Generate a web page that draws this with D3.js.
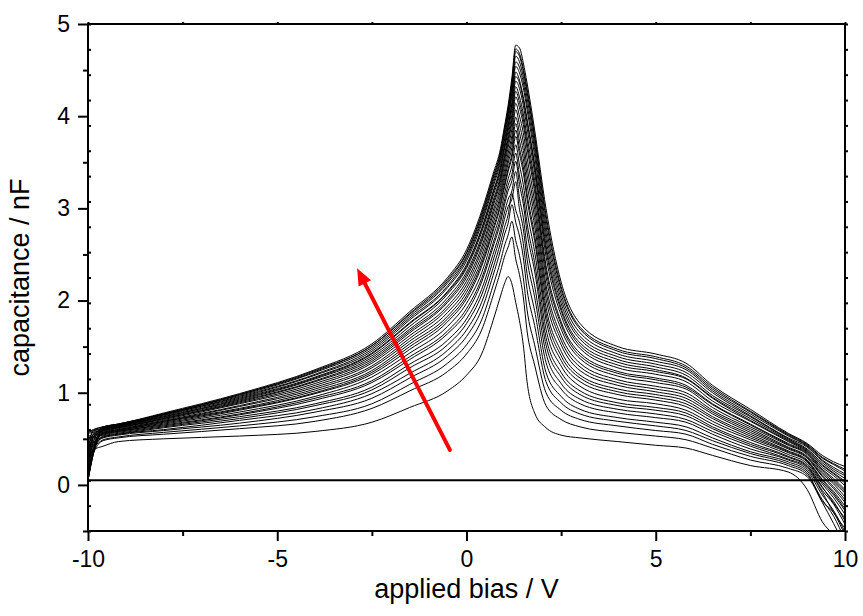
<!DOCTYPE html>
<meta charset="utf-8">
<head>
  <title>C-V curves</title>
  <style>
    body { margin: 0; background: #fff; }
    text { font-family: "Liberation Sans", Arial, sans-serif; }
  </style>
</head>
<body>
<script src="https://d3js.org/d3.v7.min.js"></script>
<div id="chart"></div>
<script>
// bias grid (V), shared by all curves
var biasGrid = [-10, -9.85, -9.6, -9.2, -8, -6, -4, -2.5, -1.5, -0.5, 0, 0.4, 0.7, 0.9, 1.0, 1.1, 1.2, 1.3, 1.4, 1.5, 1.6, 1.8, 2.1, 2.5, 3, 4, 5, 5.8, 6.5, 7.5, 8.5, 9, 9.4, 9.7, 10];

// capacitance (nF), one row per measured curve, lowest first
var c00 = [0.30,.38,.42,.47,.50,.53,.58,.68,.84,1.02,1.19,1.42,1.78,2.05,2.18,2.26,2.18,1.98,1.78,1.52,1.12,.78,.62,.54,.51,.47,.43,.40,.32,.21,.14,-.05,-.40,-.55,-.75];
var c01 = [.05,.35,.48,.51,.55,.61,.69,.83,1.02,1.23,1.42,1.68,2.05,2.32,2.47,2.58,2.69,2.45,2.28,2.04,1.67,1.30,.86,.71,.63,.57,.53,.49,.40,.27,.18,.09,-.19,-.42,-.66];
var c02 = [.45,.43,.49,.52,.57,.64,.74,.88,1.09,1.32,1.52,1.79,2.16,2.43,2.59,2.71,2.86,2.65,2.49,2.25,1.90,1.52,1.00,.81,.71,.64,.59,.55,.44,.31,.21,.11,-.16,-.34,-.60];
var c03 = [.10,.40,.51,.54,.59,.67,.79,.94,1.16,1.40,1.61,1.90,2.27,2.55,2.71,2.84,3.04,2.85,2.70,2.47,2.12,1.73,1.12,.89,.77,.69,.64,.59,.48,.34,.23,.13,-.18,-.30,-.55];
var c04 = [.52,.46,.52,.55,.60,.70,.82,.99,1.21,1.46,1.68,1.98,2.35,2.63,2.79,2.93,3.16,2.98,2.85,2.62,2.29,1.89,1.22,.96,.82,.73,.68,.63,.51,.36,.25,.15,-.11,-.28,-.51];
var c05 = [.20,.47,.52,.55,.62,.72,.86,1.03,1.27,1.52,1.75,2.06,2.43,2.71,2.88,3.02,3.10,3.29,2.99,2.78,2.45,2.04,1.33,1.04,.88,.78,.73,.68,.55,.39,.27,.17,-.08,-.30,-.47];
var c06 = [.06,.36,.53,.56,.63,.74,.88,1.06,1.31,1.57,1.80,2.12,2.50,2.77,2.95,3.10,3.19,3.40,3.11,2.90,2.58,2.16,1.43,1.10,.93,.82,.77,.71,.58,.42,.28,.19,-.06,-.21,-.43];
var c07 = [.40,.49,.54,.57,.64,.76,.92,1.11,1.36,1.64,1.87,2.20,2.58,2.85,3.03,3.19,3.30,3.51,3.26,3.05,2.74,2.32,1.52,1.17,.98,.86,.81,.75,.61,.44,.30,.20,-.03,-.18,-.39];
var c08 = [.15,.45,.55,.58,.65,.77,.94,1.13,1.39,1.67,1.91,2.24,2.62,2.90,3.08,3.25,3.37,3.60,3.35,3.14,2.84,2.41,1.60,1.22,1.02,.89,.84,.78,.63,.46,.31,.21,-.02,-.20,-.36];
var c09 = [.55,.51,.55,.58,.66,.79,.96,1.17,1.43,1.72,1.97,2.30,2.69,2.96,3.15,3.32,3.46,3.69,3.47,3.26,2.97,2.53,1.69,1.29,1.07,.93,.88,.81,.66,.49,.33,.23,.01,-.14,-.32];
var c10 = [.08,.38,.56,.59,.67,.81,.99,1.20,1.47,1.77,2.02,2.37,2.75,3.03,3.22,3.40,3.55,3.78,3.59,3.39,3.10,2.65,1.79,1.35,1.12,.98,.92,.85,.69,.51,.35,.25,.03,-.11,-.28];
var c11 = [.35,.52,.56,.59,.68,.82,1.00,1.22,1.50,1.80,2.05,2.40,2.78,3.06,3.25,3.43,3.59,3.85,3.65,3.45,3.16,2.71,1.86,1.40,1.16,1.01,.95,.88,.72,.53,.36,.26,.05,-.09,-.26];
var c12 = [.25,.53,.57,.60,.69,.83,1.02,1.24,1.53,1.83,2.09,2.44,2.83,3.11,3.30,3.49,3.66,3.92,3.73,3.54,3.26,2.81,1.93,1.45,1.19,1.04,.98,.91,.74,.55,.37,.27,.06,-.07,-.23];
var c13 = [.05,.35,.57,.60,.69,.85,1.04,1.27,1.56,1.87,2.13,2.49,2.88,3.15,3.35,3.54,3.73,3.99,3.82,3.63,3.36,2.90,2.02,1.52,1.24,1.08,1.01,.94,.77,.57,.39,.29,.09,-.04,-.19];
var c14 = [.50,.54,.58,.61,.70,.86,1.06,1.29,1.59,1.91,2.17,2.54,2.93,3.20,3.40,3.60,3.79,4.07,3.91,3.72,3.45,2.99,2.10,1.57,1.28,1.11,1.04,.97,.79,.59,.40,.30,.10,-.02,-.16];
var c15 = [.12,.42,.59,.62,.71,.88,1.08,1.32,1.62,1.94,2.21,2.58,2.97,3.25,3.46,3.66,3.86,4.14,4.00,3.82,3.55,3.08,2.17,1.62,1.32,1.14,1.07,1.00,.81,.61,.41,.31,.12,.01,-.13];
var c16 = [.42,.55,.59,.62,.72,.89,1.10,1.34,1.65,1.98,2.25,2.63,3.02,3.30,3.51,3.71,3.93,4.21,4.09,3.91,3.65,3.18,2.26,1.69,1.37,1.18,1.11,1.04,.84,.63,.43,.33,.14,.03,-.09];
var c17 = [.07,.37,.59,.62,.72,.90,1.12,1.36,1.67,2.00,2.28,2.66,3.05,3.33,3.54,3.75,3.97,4.27,4.15,3.97,3.71,3.24,2.33,1.74,1.40,1.21,1.14,1.06,.87,.65,.44,.34,.16,.05,-.07];
var c18 = [.30,.56,.60,.63,.73,.91,1.13,1.38,1.69,2.03,2.31,2.69,3.08,3.36,3.57,3.79,4.02,4.32,4.21,4.03,3.78,3.30,2.38,1.77,1.43,1.23,1.16,1.08,.88,.66,.45,.35,.17,.07,-.05];
var c19 = [.56,.57,.60,.63,.74,.92,1.15,1.40,1.72,2.07,2.35,2.74,3.13,3.41,3.63,3.84,4.08,4.38,4.30,4.12,3.87,3.39,2.48,1.84,1.48,1.27,1.20,1.12,.91,.69,.47,.36,.19,.10,-.01];
var c20 = [.18,.48,.61,.64,.74,.93,1.16,1.42,1.75,2.09,2.37,2.77,3.16,3.44,3.66,3.88,4.13,4.43,4.36,4.18,3.94,3.45,2.55,1.89,1.51,1.30,1.23,1.15,.94,.70,.48,.37,.21,.12,.02];
var c21 = [.05,.35,.61,.64,.75,.94,1.17,1.43,1.76,2.10,2.39,2.78,3.18,3.46,3.68,3.90,4.15,4.48,4.39,4.21,3.97,3.48,2.60,1.92,1.54,1.33,1.25,1.16,.95,.72,.49,.38,.22,.13,.04];
var c22 = [.48,.58,.61,.64,.76,.95,1.19,1.45,1.79,2.14,2.43,2.83,3.23,3.51,3.73,3.95,4.22,4.54,4.47,4.31,4.07,3.57,2.67,1.97,1.58,1.36,1.28,1.19,.97,.74,.50,.39,.24,.15,.07];
var c23 = [.22,.52,.62,.65,.76,.96,1.20,1.47,1.81,2.16,2.46,2.86,3.26,3.54,3.76,3.99,4.26,4.59,4.53,4.37,4.13,3.64,2.74,2.02,1.61,1.39,1.31,1.22,1.00,.75,.51,.41,.26,.17,.10];
var c24 = [.57,.59,.62,.65,.77,.97,1.22,1.49,1.83,2.19,2.48,2.89,3.29,3.57,3.80,4.03,4.31,4.65,4.59,4.43,4.20,3.70,2.81,2.07,1.65,1.42,1.34,1.25,1.02,.77,.53,.42,.27,.19,.12];
var c25 = [.10,.40,.63,.66,.77,.98,1.23,1.51,1.85,2.21,2.51,2.92,3.32,3.60,3.83,4.06,4.35,4.70,4.65,4.49,4.26,3.76,2.88,2.12,1.69,1.45,1.37,1.27,1.04,.79,.54,.43,.29,.22,.15];
var c26 = [.38,.60,.63,.66,.77,.98,1.24,1.51,1.86,2.23,2.52,2.94,3.34,3.62,3.85,4.08,4.38,4.73,4.68,4.52,4.30,3.79,2.93,2.15,1.71,1.47,1.39,1.29,1.06,.80,.55,.44,.30,.23,.17];
var c27 = [.58,.60,.63,.66,.78,.99,1.25,1.53,1.88,2.25,2.55,2.97,3.37,3.65,3.88,4.12,4.42,4.77,4.74,4.58,4.36,3.85,3.00,2.20,1.75,1.50,1.42,1.32,1.08,.82,.56,.45,.32,.25,.20];

var curves = [c00,c01,c02,c03,c04,c05,c06,c07,c08,c09,c10,c11,c12,c13,c14,c15,c16,c17,c18,c19,c20,c21,c22,c23,c24,c25,c26,c27];

var baseline = 0.05;             // horizontal reference line
var arrowFrom = [-0.44, 0.38];   // red arrow tail (V, nF)
var arrowTo = [-2.89, 2.35];     // red arrow tip

var xMajor = [-10, -5, 0, 5, 10];
var xMinor = [-7.5, -2.5, 2.5, 7.5];
var yMajor = [0, 1, 2, 3, 4, 5];
var yMinor = [-0.5, 0.5, 1.5, 2.5, 3.5, 4.5];

var W = 863, H = 616;
var margin = {left: 88, right: 845, top: 24, bottom: 531};

var svg = d3.select("#chart").append("svg")
  .attr("width", W).attr("height", H);

var x = d3.scaleLinear().domain([-10, 10]).range([margin.left, margin.right]);
var y = d3.scaleLinear().domain([-0.5, 5]).range([margin.bottom, margin.top]);

svg.append("clipPath").attr("id", "plot")
  .append("rect")
  .attr("x", margin.left).attr("y", margin.top)
  .attr("width", margin.right - margin.left).attr("height", margin.bottom - margin.top);

var line = d3.line()
  .x(function(d, i) { return x(biasGrid[i]); })
  .y(function(d) { return y(d); })
  .curve(d3.curveMonotoneX);

var g = svg.append("g").attr("clip-path", "url(#plot)");

g.selectAll("path.cv")
  .data(curves)
  .enter().append("path")
  .attr("class", "cv")
  .attr("d", line)
  .attr("fill", "none")
  .attr("stroke", "#000")
  .attr("stroke-width", 1);

g.append("line")
  .attr("x1", x(-10)).attr("x2", x(10))
  .attr("y1", y(baseline)).attr("y2", y(baseline))
  .attr("stroke", "#000").attr("stroke-width", 2);

// red arrow
var ax0 = x(arrowFrom[0]), ay0 = y(arrowFrom[1]);
var ax1 = x(arrowTo[0]), ay1 = y(arrowTo[1]);
var ang = Math.atan2(ay1 - ay0, ax1 - ax0);
var headLen = 17, headW = 7;
var bx = ax1 - headLen * Math.cos(ang), by = ay1 - headLen * Math.sin(ang);
svg.append("line")
  .attr("x1", ax0).attr("y1", ay0).attr("x2", bx).attr("y2", by)
  .attr("stroke", "#ff0000").attr("stroke-width", 4)
  .attr("stroke-linecap", "round");
svg.append("polygon")
  .attr("points", [
    [ax1, ay1],
    [bx + headW * Math.sin(ang), by - headW * Math.cos(ang)],
    [bx - headW * Math.sin(ang), by + headW * Math.cos(ang)]
  ].map(function(p) { return p.join(","); }).join(" "))
  .attr("fill", "#ff0000");

// axes
var plain = function(d) { return String(d); };
function styleAxis(sel) {
  sel.select(".domain").remove();
  sel.selectAll(".tick line").attr("stroke", "#000").attr("stroke-width", 2);
  sel.selectAll("text")
    .attr("fill", "#000")
    .style("font-family", "'Liberation Sans', Arial, sans-serif")
    .style("font-size", "23px");
}

svg.append("g").attr("transform", "translate(0," + margin.bottom + ")")
  .call(d3.axisBottom(x).tickValues(xMajor).tickSize(10).tickPadding(10).tickFormat(plain))
  .call(styleAxis);
svg.append("g").attr("transform", "translate(0," + margin.bottom + ")")
  .call(d3.axisBottom(x).tickValues(xMinor).tickSize(5).tickFormat(""))
  .call(styleAxis);
svg.append("g").attr("transform", "translate(0," + margin.top + ")")
  .call(d3.axisTop(x).tickValues(xMajor.concat(xMinor)).tickSize(2).tickFormat(""))
  .call(styleAxis);

svg.append("g").attr("transform", "translate(" + margin.left + ",0)")
  .call(d3.axisLeft(y).tickValues(yMajor).tickSize(10).tickPadding(8).tickFormat(plain))
  .call(styleAxis);
svg.append("g").attr("transform", "translate(" + margin.left + ",0)")
  .call(d3.axisLeft(y).tickValues(yMinor).tickSize(5).tickFormat(""))
  .call(styleAxis);

// fine ticks, 20 steps over the height
var fine = d3.range(21).map(function(i) { return -0.5 + i * 5.5 / 20; });
svg.append("g").attr("transform", "translate(" + margin.left + ",0)")
  .call(d3.axisLeft(y).tickValues(fine).tickSize(-3).tickFormat(""))
  .call(styleAxis);
svg.append("g").attr("transform", "translate(" + margin.right + ",0)")
  .call(d3.axisRight(y).tickValues(fine).tickSize(3).tickFormat(""))
  .call(styleAxis);

// frame
svg.append("rect")
  .attr("x", margin.left).attr("y", margin.top)
  .attr("width", margin.right - margin.left).attr("height", margin.bottom - margin.top)
  .attr("fill", "none").attr("stroke", "#000").attr("stroke-width", 2);

svg.append("text")
  .attr("x", (margin.left + margin.right) / 2).attr("y", 598)
  .attr("text-anchor", "middle")
  .style("font-size", "27px")
  .text("applied bias / V");

svg.append("text")
  .attr("transform", "translate(29," + ((margin.top + margin.bottom) / 2) + ") rotate(-90)")
  .attr("text-anchor", "middle")
  .style("font-size", "27px")
  .text("capacitance / nF");
</script>
</body>
